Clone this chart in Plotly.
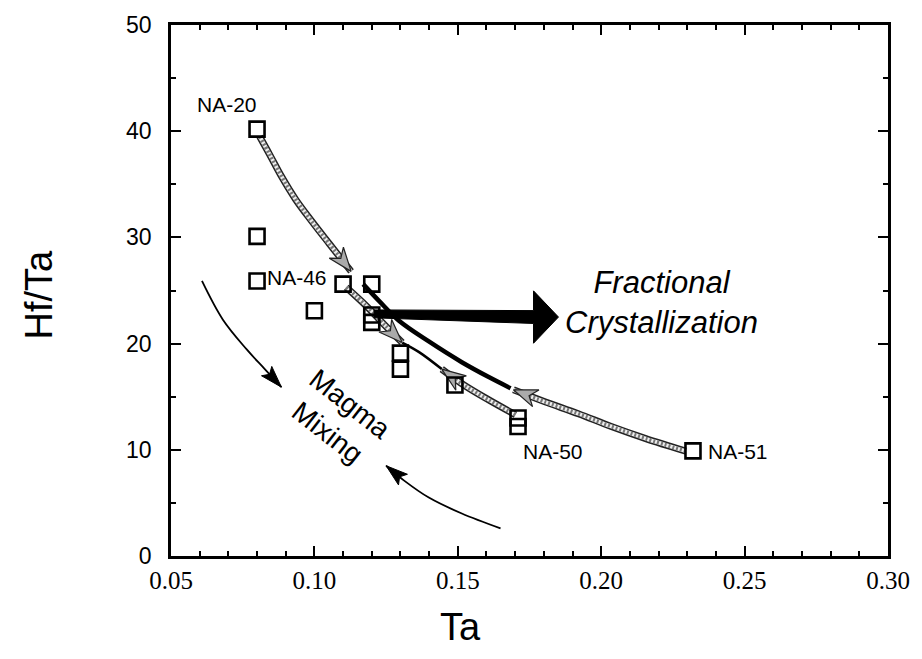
import numpy as np
import plotly.graph_objects as go

# ---- data ----
ta = [0.080, 0.080, 0.080, 0.100, 0.110, 0.120, 0.120, 0.120, 0.130, 0.130, 0.149, 0.171, 0.171, 0.232]
hf_ta = [40.2, 30.1, 25.9, 23.1, 25.6, 25.6, 22.7, 22.0, 19.1, 17.6, 16.1, 13.0, 12.2, 9.9]

sample_labels = ["NA-20", "NA-46", "NA-50", "NA-51"]
label_x = [0.0694, 0.0938, 0.1833, 0.2476]
label_y = [42.5, 26.2, 9.8, 9.8]

# annotation curves (data coordinates)
fc1_x = [0.0809, 0.0844, 0.0885, 0.0934, 0.0990, 0.1052, 0.1128]
fc1_y = [39.5, 37.8, 35.75, 33.6, 31.55, 29.4, 26.8]
fc2_x = [0.1111, 0.1181, 0.1243, 0.1306]
fc2_y = [25.3, 23.55, 21.8, 20.1]
link_x = [0.1306, 0.1365, 0.1444]
link_y = [20.1, 19.2, 17.6]
fc3_x = [0.1701, 0.1608, 0.1521, 0.1444]
fc3_y = [13.3, 14.7, 16.1, 17.6]
fc4_x = [0.2295, 0.2153, 0.2035, 0.1920, 0.1806, 0.1694]
fc4_y = [9.87, 11.08, 12.2, 13.4, 14.5, 15.65]
black_x = [0.1170, 0.1226, 0.1295, 0.1399, 0.1514, 0.1608, 0.1684]
black_y = [25.6, 24.0, 22.15, 20.2, 18.25, 16.85, 15.8]
mix1_x = [0.0608, 0.0681, 0.0764, 0.0827, 0.0885]
mix1_y = [25.9, 22.25, 19.45, 17.6, 15.9]
mix2_x = [0.1649, 0.1514, 0.1399, 0.1313, 0.1250]
mix2_y = [2.6, 4.0, 5.5, 7.1, 8.5]
fc_arrow_x = [0.1208, 0.1764, 0.1851]   # shaft start, head base, tip
fc_arrow_y = [22.8, 22.5]

# ---- geometry helpers (pixel scale of the plot area) ----
W, H = 922, 659
L, R, T, B = 171, 891, 19, 556
XR, YR = [0.05, 0.30], [0, 50]

def px(x): return L + (np.asarray(x) - XR[0]) / (XR[1] - XR[0]) * (R - L)
def py(y): return B - (np.asarray(y) - YR[0]) / (YR[1] - YR[0]) * (B - T)
def dx(p): return XR[0] + (np.asarray(p) - L) / (R - L) * (XR[1] - XR[0])
def dy(p): return YR[0] + (B - np.asarray(p)) / (B - T) * (YR[1] - YR[0])

def head(xs, ys, length=24, half=9, notch=0.7):
    tx, ty = px(xs[-1]), py(ys[-1])
    sx, sy = px(xs[-2]), py(ys[-2])
    d = np.array([tx - sx, ty - sy]); d = d / np.hypot(*d)
    n = np.array([-d[1], d[0]])
    t = np.array([tx, ty])
    pts = [t, t - length * d + half * n, t - notch * length * d, t - length * d - half * n, t]
    pts = np.array(pts)
    return dx(pts[:, 0]), dy(pts[:, 1])

fig = go.Figure()

def hatched(xs, ys):
    fig.add_trace(go.Scatter(x=xs, y=ys, mode="lines", line=dict(color="#222", width=7, shape="spline"), hoverinfo="skip"))
    fig.add_trace(go.Scatter(x=xs, y=ys, mode="lines", line=dict(color="#eeeeee", width=4, shape="spline"), hoverinfo="skip"))
    fig.add_trace(go.Scatter(x=xs, y=ys, mode="lines", line=dict(color="#777", width=4, dash="2px,2px", shape="spline"), hoverinfo="skip"))
    hx, hy = head(xs, ys)
    fig.add_trace(go.Scatter(x=hx, y=hy, mode="lines", fill="toself", fillcolor="#aaaaaa",
                             line=dict(color="#222", width=1.2), hoverinfo="skip"))

# black thick curve
fig.add_trace(go.Scatter(x=black_x, y=black_y, mode="lines", line=dict(color="black", width=4.5, shape="spline"), hoverinfo="skip"))
# thin link
fig.add_trace(go.Scatter(x=link_x, y=link_y, mode="lines", line=dict(color="black", width=2.5, shape="spline"), hoverinfo="skip"))

hatched(fc1_x, fc1_y)
hatched(fc2_x, fc2_y)
hatched(fc3_x, fc3_y)
hatched(fc4_x, fc4_y)

# magma mixing thin arrows
for xs, ys in [(mix1_x, mix1_y), (mix2_x, mix2_y)]:
    fig.add_trace(go.Scatter(x=xs, y=ys, mode="lines", line=dict(color="black", width=1.8, shape="spline"), hoverinfo="skip"))
    hx, hy = head(xs, ys, length=22, half=7, notch=0.8)
    fig.add_trace(go.Scatter(x=hx, y=hy, mode="lines", fill="toself", fillcolor="black",
                             line=dict(color="black", width=1), hoverinfo="skip"))

# big black horizontal arrow
x0, xb, xt = px(fc_arrow_x)
y0, yb = py(fc_arrow_y)
poly = np.array([[x0, y0 - 4], [xb, yb - 6.5], [xb, yb - 26.5], [xt, yb], [xb, yb + 26.5], [xb, yb + 6.5], [x0, y0 + 4], [x0, y0 - 4]])
fig.add_trace(go.Scatter(x=dx(poly[:, 0]), y=dy(poly[:, 1]), mode="lines", fill="toself", fillcolor="black",
                         line=dict(color="black", width=1), hoverinfo="skip"))

# data points
fig.add_trace(go.Scatter(x=ta, y=hf_ta, mode="markers",
                         marker=dict(symbol="square-open", size=15, color="black", line=dict(width=2.6, color="black")),
                         hoverinfo="x+y"))

# sample labels
for t, x, y in zip(sample_labels, label_x, label_y):
    fig.add_annotation(x=x, y=y, text=t, showarrow=False, xanchor="center", yanchor="middle",
                       font=dict(family="Liberation Sans, Arial", size=21, color="black"))

fig.add_annotation(x=dx(664), y=dy(300), text="<i>Fractional<br>Crystallization</i>", showarrow=False,
                   font=dict(family="Liberation Sans, Arial", size=31, color="black"), xanchor="center", yanchor="middle")
fig.add_annotation(x=dx(340), y=dy(417), text="Magma<br>Mixing", showarrow=False, textangle=38,
                   font=dict(family="Liberation Sans, Arial", size=28, color="black"), xanchor="center", yanchor="middle")

# axis titles
fig.add_annotation(xref="paper", yref="paper", x=(38 - L) / (R - L), y=(B - 292) / (B - T), text="Hf/Ta",
                   textangle=-90, showarrow=False, xanchor="center", yanchor="middle",
                   font=dict(family="Liberation Sans, Arial", size=38, color="black"))
fig.add_annotation(xref="paper", yref="paper", x=(462 - L) / (R - L), y=(B - 628) / (B - T), text="Ta",
                   showarrow=False, xanchor="center", yanchor="middle",
                   font=dict(family="Liberation Sans, Arial", size=38, color="black"))

axis_common = dict(showgrid=False, zeroline=False, showline=True, linecolor="black", linewidth=2.5,
                   mirror="allticks", ticks="inside", tickcolor="black", tickwidth=2.2, ticklen=10)
fig.update_xaxes(range=XR, tickvals=[0.05, 0.10, 0.15, 0.20, 0.25, 0.30],
                 ticktext=["0.05", "0.10", "0.15", "0.20", "0.25", "0.30"],
                 tickfont=dict(family="Liberation Serif, Times New Roman", size=25, color="black"),
                 minor=dict(dtick=0.01, ticks="inside", ticklen=5, tickwidth=1.8, tickcolor="black"),
                 ticklabelstandoff=0, **axis_common)
fig.update_yaxes(range=YR, tickvals=[0, 10, 20, 30, 40, 50],
                 tickfont=dict(family="Liberation Sans, Arial", size=23, color="black"),
                 minor=dict(dtick=5, ticks="inside", ticklen=5, tickwidth=1.8, tickcolor="black"),
                 ticklabelstandoff=12, **axis_common)

fig.update_layout(width=W, height=H, margin=dict(l=L, r=W - R, t=T, b=H - B),
                  paper_bgcolor="white", plot_bgcolor="white", showlegend=False)

fig.write_html("out.html", config={"displayModeBar": False},
               post_script="document.body.style.margin='0';document.body.style.overflow='hidden';")
